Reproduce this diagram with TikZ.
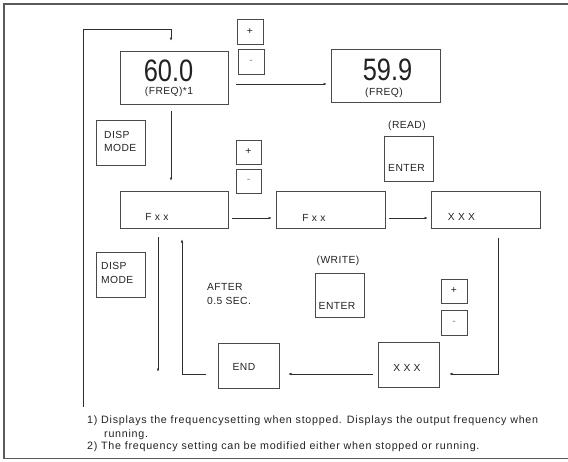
\documentclass[tikz,border=0pt]{standalone}
\usepackage{fontspec}
\setmainfont{Liberation Sans}
\newfontfamily\notefont[LetterSpace=7]{Liberation Sans}
\newfontfamily\lblfont[LetterSpace=4]{Liberation Sans}
\usetikzlibrary{arrows.meta}
\definecolor{boxgray}{HTML}{4A4A4A}
\definecolor{linegray}{HTML}{2E2E2E}
\definecolor{txt}{HTML}{222222}
\definecolor{framegray}{HTML}{5A5A5A}
\begin{document}
\begin{tikzpicture}[x=1pt,y=-1pt,
 box/.style={draw=boxgray, line width=0.8pt, inner sep=0pt, outer sep=0pt},
 lbl/.style={font=\lblfont\fontsize{10.3}{12}\selectfont, text=txt, inner sep=0pt},
 big/.style={font=\fontsize{31}{31}\selectfont, text=txt, inner sep=0pt},
 note/.style={font=\notefont\fontsize{10.7}{12}\selectfont, text=txt, inner sep=0pt, anchor=west},
 conn/.style={draw=linegray, line width=0.7pt},
 arr/.style={conn, -{Latex[length=3.5pt,width=2.6pt]}},
]
\useasboundingbox (0,0) rectangle (568,461);
\draw[framegray, line width=1.3pt] (575,4) -- (4,4) -- (4,458.5) -- (575,458.5);

% boxes
\node[box, minimum width=108pt, minimum height=53pt] (disp60) at (174,77.5) {};
\node[box, minimum width=26pt, minimum height=25pt] (plus1) at (250,31.5) {};
\node[box, minimum width=26pt, minimum height=25pt] (minus1) at (251,61.5) {};
\node[box, minimum width=109pt, minimum height=53pt] (disp59) at (385.5,75.5) {};
\node[box, minimum width=49pt, minimum height=45pt] (dm1) at (120.5,142.5) {};
\node[box, minimum width=25pt, minimum height=24pt] (plus2) at (248.5,152) {};
\node[box, minimum width=25pt, minimum height=24pt] (minus2) at (248.5,181) {};
\node[box, minimum width=108pt, minimum height=37pt] (fxx1) at (174,209.5) {};
\node[box, minimum width=109pt, minimum height=37pt] (fxx2) at (330.5,209.5) {};
\node[box, minimum width=49pt, minimum height=45pt] (read) at (408.5,158.5) {};
\node[box, minimum width=109pt, minimum height=37pt] (xxx1) at (485.5,209.5) {};
\node[box, minimum width=49pt, minimum height=45pt] (dm2) at (120.5,274.5) {};
\node[box, minimum width=49pt, minimum height=44pt] (write) at (339.5,295) {};
\node[box, minimum width=26pt, minimum height=24pt] (plus3) at (454,291) {};
\node[box, minimum width=26pt, minimum height=25pt] (minus3) at (454,322.5) {};
\node[box, minimum width=61pt, minimum height=45pt] (xxx2) at (408.5,364.5) {};
\node[box, minimum width=61pt, minimum height=45pt] (endb) at (248.5,365.5) {};

% texts
\node[big] (t60) at (168.5,70.5) {\scalebox{0.82}[1]{60.0}};
\node[lbl] (tf1) at (169,92) {(FREQ)*1};
\node[big] (t59) at (387.5,70) {\scalebox{0.82}[1]{59.9}};
\node[lbl] (tf2) at (384,93) {(FREQ)};
\node[lbl] (tp1) at (plus1) {+};
\node[lbl, text=gray] (tm1) at (minus1) {-};
\node[lbl] (tp2) at (plus2) {+};
\node[lbl, text=gray] (tm2) at (minus2) {-};
\node[lbl] (tp3) at (plus3) {+};
\node[lbl, text=gray] (tm3) at (minus3) {-};
\node[lbl, anchor=west] (tdm1a) at (104,135) {DISP};
\node[lbl, anchor=west] (tdm1b) at (104,148) {MODE};
\node[lbl, anchor=west] (tdm2a) at (101,266) {DISP};
\node[lbl, anchor=west] (tdm2b) at (101,280) {MODE};
\node[lbl] (tfx1) at (157,217) {F x x};
\node[lbl] (tfx2) at (314,218) {F x x};
\node[lbl] (tx1) at (461.5,217) {X X X};
\node[lbl] (tread) at (407,126) {(READ)};
\node[lbl] (ten1) at (406.5,168) {ENTER};
\node[lbl] (twrite) at (338,261) {(WRITE)};
\node[lbl] (ten2) at (337,306) {ENTER};
\node[lbl, anchor=west] (taft) at (207,287) {AFTER};
\node[lbl, anchor=west] (tsec) at (207,301) {0.5 SEC.};
\node[lbl] (tx2) at (407,368) {X X X};
\node[lbl] (tend) at (244,367) {END};
\node[note] (n1) at (87,421) {1) Displays the frequencysetting when stopped. Displays the output frequency when};
\node[note] (n1b) at (104,435) {running.};
\node[note] (n2) at (87,447) {2) The frequency setting can be modified either when stopped or running.};

% connectors
\coordinate (loopstart) at (83,407);
\coordinate (looptop) at (83,29);
\draw[arr] (loopstart) -- (looptop) -| ([xshift=-3pt,yshift=10pt]disp60.north);
\draw[arr] ([xshift=8pt,yshift=-6.5pt]disp60.east) -- ([xshift=-4pt,yshift=-8.5pt]disp59.west);
\draw[arr] ([xshift=-3pt,yshift=-7pt]disp60.south) -- ([xshift=-3pt,yshift=10pt]fxx1.north);
\draw[arr] ([xshift=4pt,yshift=-8.5pt]fxx1.east) -- ([xshift=-4pt,yshift=-8.5pt]fxx2.west);
\draw[arr] ([xshift=4pt,yshift=-8.5pt]fxx2.east) -- ([xshift=-3pt,yshift=-8.5pt]xxx1.west);
\draw[arr] ([xshift=12.5pt,yshift=-10pt]xxx1.south) |- ([xshift=10pt,yshift=-9.5pt]xxx2.east);
\draw[arr] ([xshift=-5pt,yshift=-9.5pt]xxx2.west) -- ([xshift=9pt,yshift=-8.5pt]endb.east);
\draw[arr] ([xshift=-12pt,yshift=-8.5pt]endb.west) -| ([xshift=8pt,yshift=-11pt]fxx1.south);
\coordinate (downend) at (158,372);
\draw[arr] ([xshift=-16pt,yshift=-9pt]fxx1.south) -- (downend);
\end{tikzpicture}
\end{document}
